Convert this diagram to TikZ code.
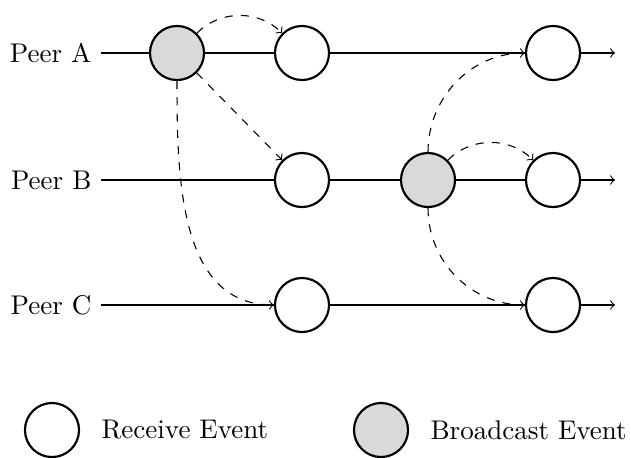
\documentclass[tikz,border=0pt]{standalone}
\begin{document}
\begin{tikzpicture}[x=0.37pt,y=-0.37pt,
  ev/.style={circle,draw,thick,minimum size=20pt,inner sep=0pt},
  recv/.style={ev,fill=white},
  bcast/.style={ev,fill=gray!30},
  msg/.style={->,dashed},
  tl/.style={thin}]
\useasboundingbox (0,0) rectangle (631,457);

% peer labels
\node[anchor=east] (pa) at (101,53) {Peer A};
\node[anchor=east] (pb) at (101,180) {Peer B};
\node[anchor=east] (pc) at (101,305) {Peer C};

% events
\node[bcast] (a1) at (177,53) {};
\node[recv]  (a2) at (302,53) {};
\node[recv]  (a3) at (553,53) {};
\node[recv]  (b1) at (302,180) {};
\node[bcast] (b2) at (428,180) {};
\node[recv]  (b3) at (553,180) {};
\node[recv]  (c1) at (302,305) {};
\node[recv]  (c2) at (553,305) {};

\coordinate (ae) at (615,53);
\coordinate (be) at (615,180);
\coordinate (ce) at (615,305);

% timelines
\draw[tl] (pa) -- (a1);
\draw[tl] (a1) -- (a2);
\draw[tl] (a2) -- (a3);
\draw[tl,->] (a3) -- (ae);
\draw[tl] (pb) -- (b1);
\draw[tl] (b1) -- (b2);
\draw[tl] (b2) -- (b3);
\draw[tl,->] (b3) -- (be);
\draw[tl] (pc) -- (c1);
\draw[tl] (c1) -- (c2);
\draw[tl,->] (c2) -- (ce);

% messages
\draw[msg] (a1.45) to[bend left=45] (a2.135);
\draw[msg] (a1.-45) -- (b1.135);
\draw[msg] (a1.south) to[out=-90,in=180] (c1.west);
\draw[msg] (b2.north) to[out=90,in=180] (a3.west);
\draw[msg] (b2.45) to[bend left=45] (b3.135);
\draw[msg] (b2.south) to[out=-90,in=180] (c2.west);

% legend
\node[recv] (lr) at (52,430) {};
\node[anchor=west] (lrt) at (92,430) {Receive Event};
\node[bcast] (lb) at (381,430) {};
\node[anchor=west] (lbt) at (421,430) {Broadcast Event};
\end{tikzpicture}
\end{document}
